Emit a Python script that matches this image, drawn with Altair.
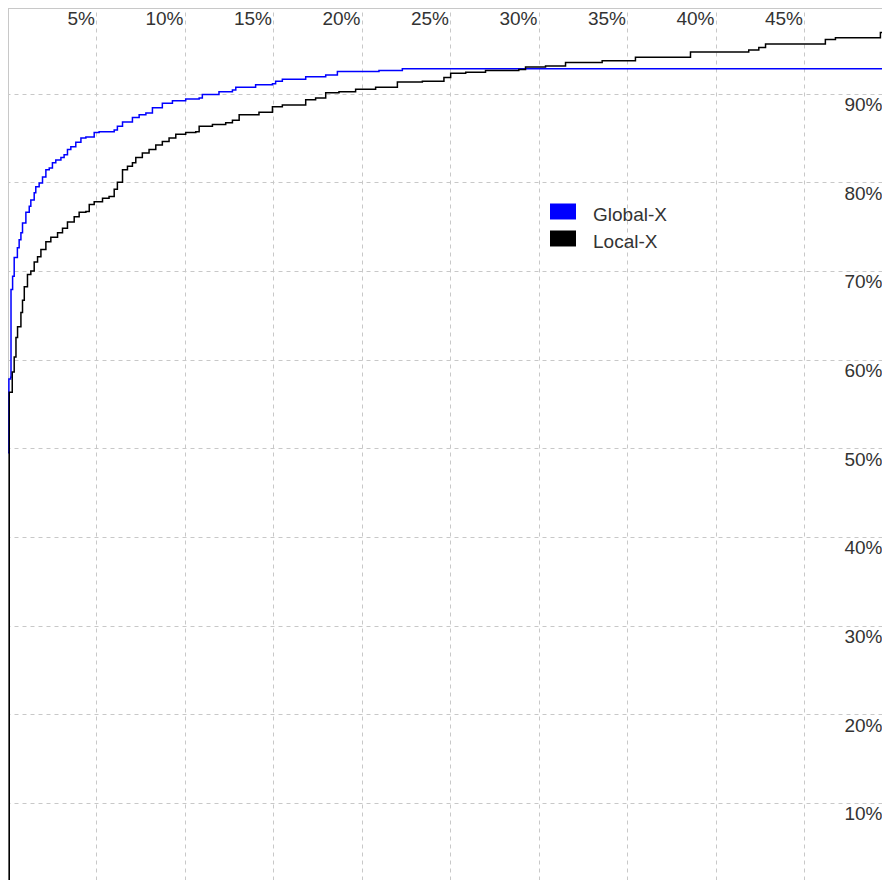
import altair as alt
import pandas as pd

# ---- data (x = % of population, y = cumulative %) ----
series_names = ["Global-X", "Local-X"]
series_colors = ["#0000ff", "#000000"]

global_x = [0, 0.05, 0.15, 0.17, 0.26, 0.35, 0.53, 0.63, 0.73, 0.82,
            1.01, 1.20, 1.29, 1.48, 1.57, 1.76, 1.95, 2.14, 2.33, 2.51,
            2.70, 2.99, 3.17, 3.36, 3.55, 3.83, 4.12, 4.40, 4.87, 5.15,
            6.00, 6.18, 6.47, 7.03, 7.41, 7.79, 8.16, 8.72, 9.29, 10.04,
            10.80, 10.98, 11.92, 12.68, 12.87, 13.99, 14.94, 15.12, 15.50, 16.82,
            17.95, 18.61, 20.96, 22.28, 50]
global_y = [49.5, 57.8, 58.0, 67.9, 69.4, 71.5, 72.6, 73.5, 74.3, 75.4,
            76.6, 77.3, 78.0, 78.8, 79.5, 79.9, 80.6, 81.4, 81.6, 82.2,
            82.5, 82.8, 83.1, 83.7, 84.0, 84.5, 85.0, 85.1, 85.6, 85.7,
            85.9, 86.3, 86.8, 87.3, 87.6, 87.8, 88.4, 88.9, 89.2, 89.4,
            89.5, 89.9, 90.2, 90.4, 90.7, 91.0, 91.1, 91.4, 91.6, 91.9,
            92.1, 92.5, 92.6, 92.8, 92.8]

local_x = [0, 0.07, 0.24, 0.35, 0.45, 0.54, 0.73, 0.82, 0.92, 1.10,
           1.29, 1.48, 1.67, 1.86, 2.14, 2.42, 2.80, 3.08, 3.36, 3.74,
           4.02, 4.40, 4.59, 4.87, 5.34, 5.71, 6.00, 6.18, 6.47, 6.75,
           7.03, 7.22, 7.59, 7.97, 8.35, 8.72, 9.10, 9.48, 10.04, 10.61,
           10.80, 11.55, 12.30, 12.68, 13.06, 14.18, 14.94, 15.50, 16.82, 17.38,
           17.95, 18.70, 19.64, 20.77, 22.00, 23.41, 24.63, 25.01, 25.86, 26.98,
           28.86, 29.24, 30.37, 31.50, 33.57, 35.45, 38.56, 41.85, 42.42, 42.80,
           46.18, 46.75, 49.29, 50]
local_y = [0, 56.3, 58.6, 60.3, 62.5, 63.7, 65.3, 66.7, 68.2, 69.6,
           70.0, 71.0, 71.6, 72.4, 73.3, 73.8, 74.3, 74.8, 75.5, 76.1,
           76.6, 76.7, 77.5, 77.8, 78.2, 78.4, 79.2, 80.0, 81.4, 81.8,
           82.2, 82.8, 83.3, 83.7, 84.2, 84.6, 85.0, 85.4, 85.6, 85.7,
           86.3, 86.5, 86.7, 87.0, 87.6, 87.9, 88.5, 88.7, 89.3, 89.5,
           90.1, 90.2, 90.5, 90.7, 91.3, 91.4, 91.8, 92.3, 92.4, 92.6,
           92.7, 93.0, 93.1, 93.5, 93.7, 94.1, 94.7, 94.9, 95.2, 95.6,
           96.1, 96.3, 96.9, 96.9]

x_ticks = [5, 10, 15, 20, 25, 30, 35, 40, 45]
y_ticks = [10, 20, 30, 40, 50, 60, 70, 80, 90]

rows = []
for i, (xv, yv) in enumerate(zip(global_x, global_y)):
    rows.append({"series": "Global-X", "x": xv, "y": yv, "i": i})
for i, (xv, yv) in enumerate(zip(local_x, local_y)):
    rows.append({"series": "Local-X", "x": xv, "y": yv, "i": i})
df = pd.DataFrame(rows)
legend_df = pd.DataFrame({"label": series_names})
frame_df = pd.DataFrame({"k": [0]})

FONT = "Liberation Sans"
TXT = "#333333"
GRID = "#c8c8c8"
W, H = 874, 872

x_enc = alt.X(
    "x:Q",
    scale=alt.Scale(domain=[0, 49.38], nice=False, zero=False),
    axis=alt.Axis(
        orient="top", values=x_ticks, labelExpr="datum.value + '%'",
        title=None, domain=False, ticks=False, tickSize=0,
        grid=True, gridColor=GRID, gridDash=[4, 4], gridWidth=1,
        labelFont=FONT, labelFontSize=19, labelColor=TXT,
        labelAlign="right", labelBaseline="alphabetic",
        labelPadding=-16, labelOffset=-2, labelOverlap=False, labelFlush=False,
        labelBound=False,
    ),
)
y_enc = alt.Y(
    "y:Q",
    scale=alt.Scale(domain=[1.3, 99.65], nice=False, zero=False),
    axis=alt.Axis(
        orient="right", values=y_ticks, labelExpr="datum.value + '%'",
        title=None, domain=False, ticks=False, tickSize=0,
        grid=True, gridColor=GRID, gridDash=[4, 4], gridWidth=1,
        labelFont=FONT, labelFontSize=19, labelColor=TXT,
        labelAlign="right", labelBaseline="alphabetic",
        labelPadding=0, labelOffset=17, labelOverlap=False, labelFlush=False,
        labelBound=False,
    ),
)

# frame: left and top borders only (the reference's right edge runs off-page)
left_border = alt.Chart(frame_df).mark_rule(color=GRID, strokeWidth=1).encode(
    x=alt.value(0.5), y=alt.value(0), y2=alt.value(H)
)
top_border = alt.Chart(frame_df).mark_rule(color=GRID, strokeWidth=1).encode(
    y=alt.value(0.5), x=alt.value(0), x2=alt.value(W)
)

lines = alt.Chart(df).mark_line(
    interpolate="step-after", strokeWidth=1.5, clip=True
).encode(
    x=x_enc,
    y=y_enc,
    stroke=alt.Stroke("series:N", scale=alt.Scale(range=series_colors),
                      legend=None),
    order=alt.Order("i:Q"),
)

legend_src = alt.Chart(legend_df).mark_square(size=0, opacity=1).encode(
    fill=alt.Fill(
        "label:N",
        scale=alt.Scale(domain=series_names, range=series_colors),
        legend=alt.Legend(
            title=None, orient="none", legendX=542, legendY=194,
            symbolType="M-1,-0.885L1,-0.885L1,0.345L-1,0.345Z",
            symbolSize=676, symbolStrokeWidth=0, symbolOpacity=1,
            labelFont=FONT, labelFontSize=19, labelColor=TXT,
            labelOffset=17, rowPadding=4, padding=0, labelLimit=300,
        ),
    ),
)

chart = alt.layer(left_border, top_border, lines, legend_src).resolve_scale(
    fill="independent", stroke="independent"
).resolve_legend(
    fill="independent", stroke="independent"
).properties(
    width=W, height=H,
    padding=0,
    autosize=alt.AutoSizeParams(type="none"),
).configure_view(
    stroke="transparent", strokeWidth=0
).configure(background="white")

chart.save("out.html", embed_options={"renderer": "svg", "actions": False})
